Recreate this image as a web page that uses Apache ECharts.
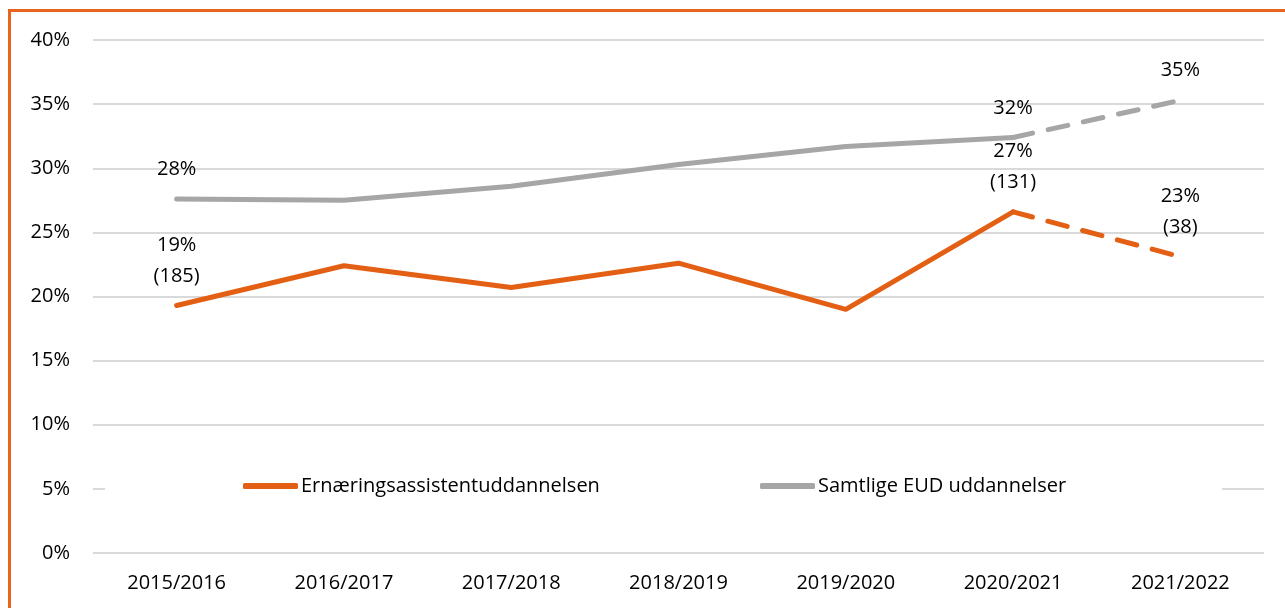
<!DOCTYPE html>
<html lang="da">
<head>
    <meta charset="UTF-8">
    <title>Ernæringsassistentuddannelsen</title>
    <style>
        html, body { margin: 0; padding: 0; background: #fff; overflow: hidden; }
        .frame {
            position: absolute; left: 8px; top: 9px; width: 1400px; height: 700px;
            border-left: 3px solid #E8641C; border-top: 3px solid #E8641C;
        }
        #chart { position: absolute; left: 0; top: 0; width: 1285px; height: 608px; }
    </style>
</head>
<body>
    <div class="frame"></div>
    <div id="chart"></div>
    <script src="https://cdn.jsdelivr.net/npm/echarts@6/dist/echarts.min.js"></script>
    <script>
        // kategorier (skoleår)
        const years = ['2015/2016', '2016/2017', '2017/2018', '2018/2019', '2019/2020', '2020/2021', '2021/2022'];

        // værdier i procent
        const ernaering = [19.3, 22.4, 20.7, 22.6, 19.0, 26.6, 23.1];
        const samtlige = [27.6, 27.5, 28.6, 30.3, 31.7, 32.4, 35.3];

        // datalabels ('' = ingen label)
        const ernaeringLabels = ['19%\n(185)', '', '', '', '', '27%\n(131)', '23%\n(38)'];
        const samtligeLabels = ['28%', '', '', '', '', '32%', '35%'];

        const yTicks = [0, 5, 10, 15, 20, 25, 30, 35, 40];

        const ORANGE = '#E35F14';
        const GREY = '#A6A6A6';
        const FONT = 'Open Sans';

        // sidste punkt tegnes stiplet: fuld serie op til næstsidste år, stiplet serie for sidste stykke
        const last = years.length - 1;
        function solidPart(values, labels) {
            return values.map((v, i) => i < last ? {
                value: v,
                label: { show: labels[i] !== '', formatter: labels[i] }
            } : '-');
        }
        function dashedPart(values, labels) {
            return values.map((v, i) => i >= last - 1 ? {
                value: v,
                label: { show: i === last && labels[i] !== '', formatter: labels[i] }
            } : '-');
        }

        const labelStyle = {
            position: 'top',
            distance: 14,
            color: '#000',
            fontFamily: FONT,
            fontSize: 20,
            lineHeight: 31,
            align: 'center'
        };

        const chart = echarts.init(document.getElementById('chart'));

        chart.setOption({
            animation: false,
            textStyle: { fontFamily: FONT },
            grid: { left: 93, right: 21, top: 40, bottom: 55 },
            legend: [{
                data: ['Ernæringsassistentuddannelsen'],
                left: 105, top: 470,
                padding: [6, 40, 6, 138],
                backgroundColor: '#fff',
                icon: 'roundRect',
                itemWidth: 55, itemHeight: 6,
                textStyle: { color: '#000', fontSize: 20, fontFamily: FONT, padding: [0, 0, 0, -2] }
            }, {
                data: ['Samtlige EUD uddannelser'],
                left: 600, top: 470,
                padding: [6, 156, 6, 160],
                backgroundColor: '#fff',
                icon: 'roundRect',
                itemWidth: 55, itemHeight: 6,
                textStyle: { color: '#000', fontSize: 20, fontFamily: FONT, padding: [0, 0, 0, -2] }
            }],
            xAxis: {
                type: 'category',
                data: years,
                boundaryGap: true,
                axisLine: { show: false },
                axisTick: { show: false },
                axisLabel: { color: '#000', fontSize: 20, fontFamily: FONT, margin: 20 }
            },
            yAxis: {
                type: 'value',
                min: yTicks[0],
                max: yTicks[yTicks.length - 1],
                interval: 5,
                axisLine: { show: false },
                axisTick: { show: false },
                splitLine: { lineStyle: { color: '#D9D9D9', width: 2 } },
                axisLabel: { color: '#000', fontSize: 20, fontFamily: FONT, margin: 23, formatter: '{value}%' }
            },
            series: [{
                name: 'Ernæringsassistentuddannelsen',
                type: 'line',
                data: solidPart(ernaering, ernaeringLabels),
                symbol: 'circle',
                symbolSize: 0,
                showSymbol: true,
                color: ORANGE,
                lineStyle: { color: ORANGE, width: 5, cap: 'round', join: 'round' },
                label: labelStyle,
                z: 3
            }, {
                name: 'Ernæringsassistentuddannelsen (stiplet)',
                type: 'line',
                data: dashedPart(ernaering, ernaeringLabels),
                symbol: 'circle',
                symbolSize: 0,
                showSymbol: true,
                color: ORANGE,
                lineStyle: { color: ORANGE, width: 5, type: [20, 16], cap: 'round' },
                label: labelStyle,
                z: 3
            }, {
                name: 'Samtlige EUD uddannelser',
                type: 'line',
                data: solidPart(samtlige, samtligeLabels),
                symbol: 'circle',
                symbolSize: 0,
                showSymbol: true,
                color: GREY,
                lineStyle: { color: GREY, width: 5, cap: 'round', join: 'round' },
                label: labelStyle,
                z: 2
            }, {
                name: 'Samtlige EUD uddannelser (stiplet)',
                type: 'line',
                data: dashedPart(samtlige, samtligeLabels),
                symbol: 'circle',
                symbolSize: 0,
                showSymbol: true,
                color: GREY,
                lineStyle: { color: GREY, width: 5, type: [20, 16], cap: 'round' },
                label: labelStyle,
                z: 2
            }]
        });
    </script>
</body>
</html>
